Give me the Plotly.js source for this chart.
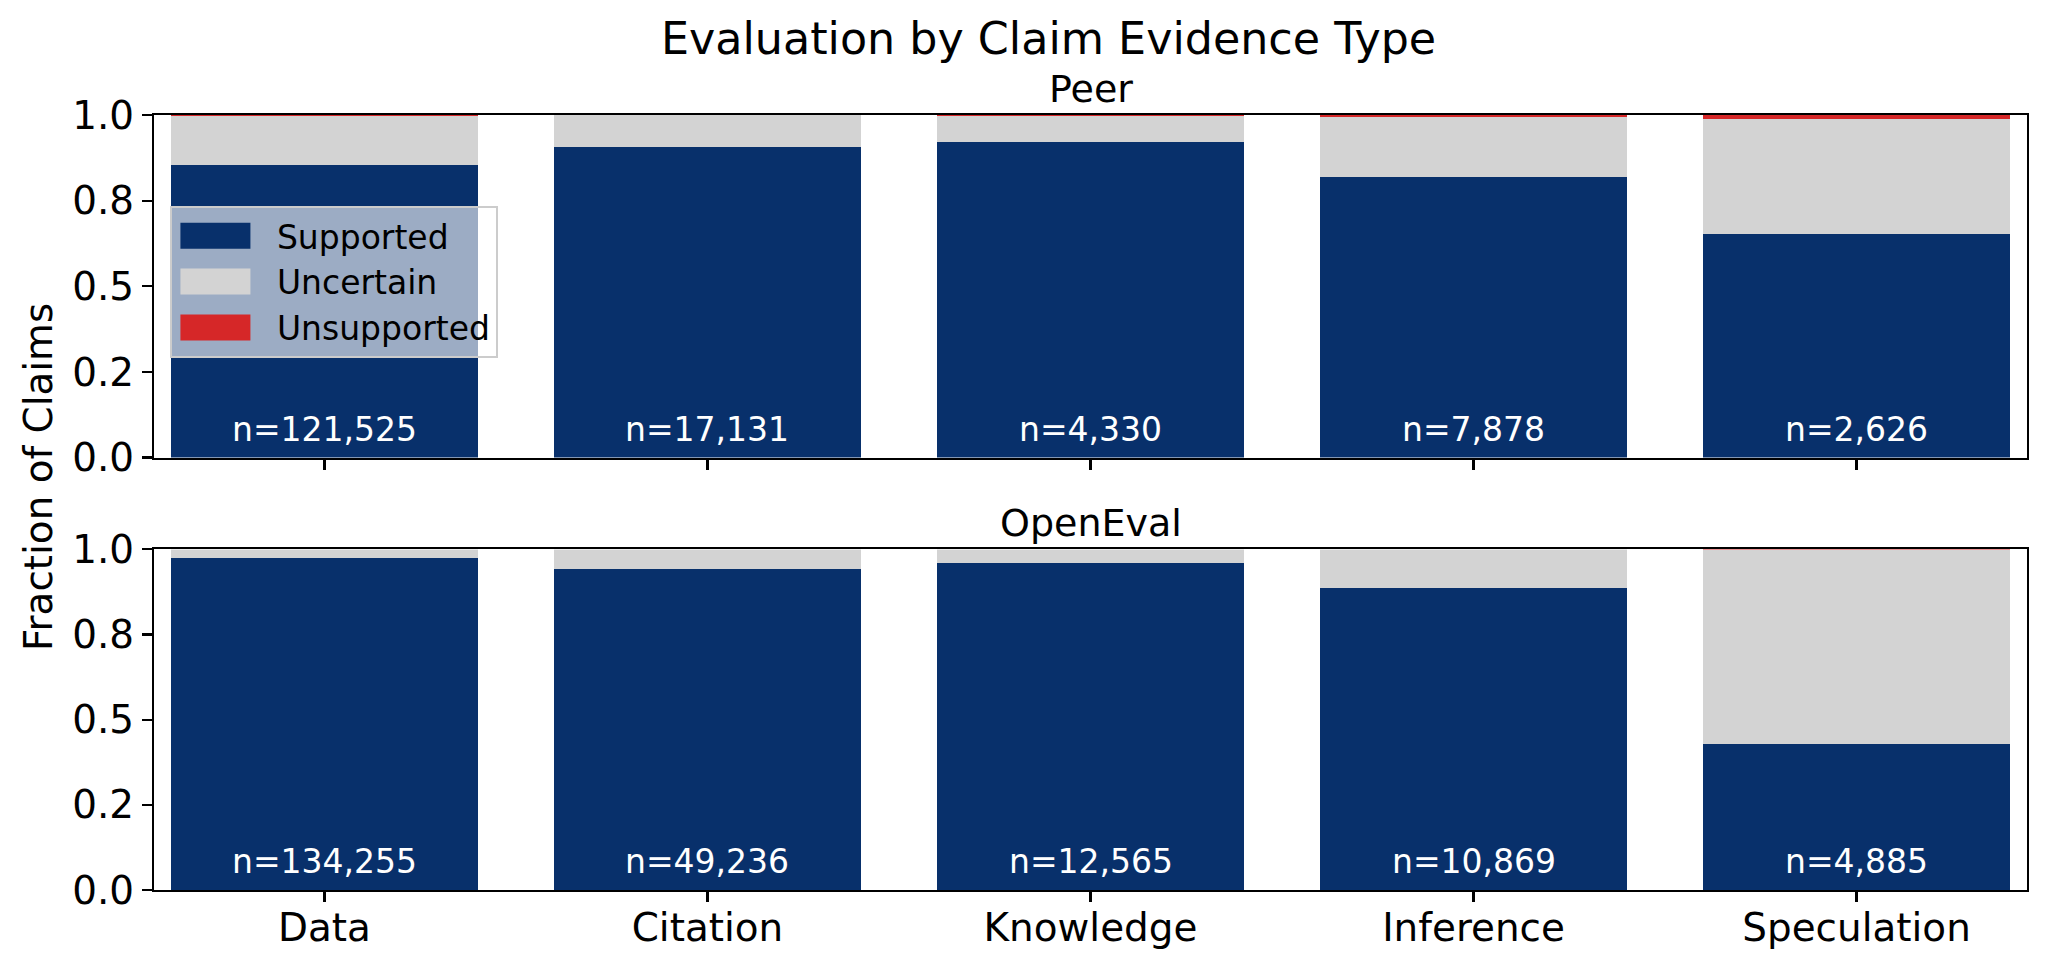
<!DOCTYPE html>
<html>
<head>
<meta charset="utf-8">
<script src="https://cdn.plot.ly/plotly-3.0.1.min.js"></script>
<style>html,body{margin:0;padding:0;background:#fff;}#chart{width:2048px;height:969px;}</style>
</head>
<body>
<div id="chart"></div>
<script>
// ---- data ----
const categories = ['Data', 'Citation', 'Knowledge', 'Inference', 'Speculation'];

const peerSupported   = [0.854, 0.906, 0.922, 0.818, 0.653];
const peerUncertain   = [0.144, 0.093, 0.076, 0.176, 0.335];
const peerUnsupported = [0.002, 0.001, 0.002, 0.006, 0.012];
const peerN           = [121525, 17131, 4330, 7878, 2626];

const openSupported   = [0.975, 0.942, 0.960, 0.887, 0.429];
const openUncertain   = [0.025, 0.058, 0.040, 0.113, 0.569];
const openUnsupported = [0.000, 0.000, 0.000, 0.000, 0.002];
const openN           = [134255, 49236, 12565, 10869, 4885];

const seriesNames = ['Supported', 'Uncertain', 'Unsupported'];
const tickVals = [0, 0.25, 0.5, 0.75, 1.0];
const tickText = ['0.0', '0.2', '0.5', '0.8', '1.0'];

// ---- styles ----
const colors = ['#08306b', '#d3d3d3', '#d62728'];
const FONT = 'DejaVu Sans, sans-serif';

function bars(vals, xa, ya, legend) {
  return vals.map((v, i) => ({
    type: 'bar', x: categories, y: v, name: seriesNames[i],
    xaxis: xa, yaxis: ya, width: 0.8,
    marker: {color: colors[i], line: {width: 0}},
    showlegend: legend, hoverinfo: 'skip'
  }));
}

const data = [
  ...bars([peerSupported, peerUncertain, peerUnsupported], 'x', 'y', true),
  ...bars([openSupported, openUncertain, openUnsupported], 'x2', 'y2', false)
];

const fmt = n => 'n=' + n.toLocaleString('en-US');
const annotations = [];
categories.forEach((c, i) => {
  annotations.push({x: c, y: 0.02, xref: 'x', yref: 'y', text: fmt(peerN[i]), showarrow: false,
    yanchor: 'bottom', font: {family: FONT, size: 33, color: '#ffffff'}});
  annotations.push({x: c, y: 0.02, xref: 'x2', yref: 'y2', text: fmt(openN[i]), showarrow: false,
    yanchor: 'bottom', font: {family: FONT, size: 33, color: '#ffffff'}});
});
annotations.push({x: 0.5, y: 1, xref: 'x domain', yref: 'y domain', text: 'Peer', showarrow: false,
  yanchor: 'bottom', yshift: 2, font: {family: FONT, size: 38, color: '#000'}});
annotations.push({x: 0.5, y: 1, xref: 'x2 domain', yref: 'y2 domain', text: 'OpenEval', showarrow: false,
  yanchor: 'bottom', yshift: 2, font: {family: FONT, size: 38, color: '#000'}});
annotations.push({x: -0.0614, y: 0.533, xref: 'paper', yref: 'paper', text: 'Fraction of Claims',
  textangle: -90, showarrow: false, xanchor: 'center', yanchor: 'middle',
  font: {family: FONT, size: 38.9, color: '#000'}});

const xBase = {
  type: 'category', range: [-0.445, 4.445], showline: true, mirror: true, linecolor: '#000', linewidth: 2.2,
  ticks: 'outside', ticklen: 10, tickwidth: 2.2, tickcolor: '#000', showgrid: false, zeroline: false,
  tickfont: {family: FONT, size: 38.9, color: '#000'}, fixedrange: true
};
const yBase = {
  range: [0, 1], tickvals: tickVals, ticktext: tickText, showline: true, mirror: true, linecolor: '#000',
  linewidth: 2.2, ticks: 'outside', ticklen: 10, tickwidth: 2.2, tickcolor: '#000', showgrid: false,
  zeroline: false, tickfont: {family: FONT, size: 38.9, color: '#000'}, fixedrange: true
};

const layout = {
  width: 2048, height: 969,
  margin: {l: 154, r: 21, t: 115, b: 79, pad: 0},
  paper_bgcolor: '#fff', plot_bgcolor: '#fff',
  barmode: 'stack', bargap: 0.2,
  font: {family: FONT, color: '#000'},
  title: {text: 'Evaluation by Claim Evidence Type', x: 0.512, xref: 'container', xanchor: 'center',
    y: 0.96, yref: 'container', yanchor: 'middle', font: {family: FONT, size: 44.4, color: '#000'}},
  xaxis: Object.assign({}, xBase, {anchor: 'y', showticklabels: false, matches: 'x2'}),
  yaxis: Object.assign({}, yBase, {domain: [0.558, 1], anchor: 'x'}),
  xaxis2: Object.assign({}, xBase, {anchor: 'y2', ticklabelstandoff: -8}),
  yaxis2: Object.assign({}, yBase, {domain: [0, 0.4395], anchor: 'x2'}),
  legend: {x: 0.0085, y: 0.883, xanchor: 'left', yanchor: 'top', traceorder: 'normal',
    bgcolor: 'rgba(255,255,255,0.6)', bordercolor: '#cccccc', borderwidth: 2,
    font: {family: FONT, size: 33, color: '#000'}, itemwidth: 95},
  annotations: annotations
};

Plotly.newPlot('chart', data, layout, {displayModeBar: false, staticPlot: true}).then(function (gd) {
  // widen the legend swatches to matplotlib-like patches
  gd.querySelectorAll('.legend .legendpoints path').forEach(function (p) {
    p.setAttribute('d', 'M-44,13H26V-13H-44Z');
  });
});
</script>
</body>
</html>
